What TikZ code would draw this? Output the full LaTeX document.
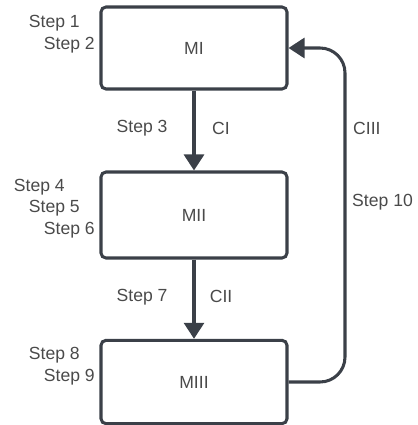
\documentclass[tikz,border=0pt]{standalone}
\usepackage{fontspec}
\setmainfont{Liberation Sans}
\usepackage{xcolor}
\usepackage{tikz}
\usetikzlibrary{arrows.meta,positioning,calc}

\definecolor{edgegray}{HTML}{3B4048}
\definecolor{textgray}{HTML}{4A4A4A}

\begin{document}
\begin{tikzpicture}[x=0.03cm, y=-0.03cm,
		every node/.style={font=\fontsize{15}{18}\selectfont, text=textgray},
		module/.style={draw=edgegray, line width=2.6pt, rounded corners=0.15cm, minimum width=5.58cm, text=textgray},
		flow/.style={draw=edgegray, line width=2.6pt, -{Triangle[width=0.6cm, length=0.48cm]}},
		steplabel/.style={anchor=east, inner sep=0pt}]
		\useasboundingbox (0,0) rectangle (417,425);

		% modules
		\node[module, minimum height=2.46cm] (m1) at (194,48) {MI};
		\node[module, minimum height=2.58cm] (m2) at (194,215) {MII};
		\node[module, minimum height=2.5cm] (m3) at (194,382) {MIII};

		% steps beside the modules
		\node[steplabel] (s1) at (80,23) {Step 1};
		\node[steplabel] (s2) at (95,45) {Step 2};
		\node[steplabel] (s4) at (65,187) {Step 4};
		\node[steplabel] (s5) at (80,208) {Step 5};
		\node[steplabel] (s6) at (95,230) {Step 6};
		\node[steplabel] (s8) at (80,355) {Step 8};
		\node[steplabel] (s9) at (95,377) {Step 9};

		% forward connectors
		\draw[flow] (m1.south) -- node[pos=0.47, left=0.75cm, inner sep=0pt] (s3) {Step 3}
			node[pos=0.47, right=0.5cm, inner sep=0pt] (c1) {CI} (m2.north);
		\draw[flow] (m2.south) -- node[pos=0.47, left=0.75cm, inner sep=0pt] (s7) {Step 7}
			node[pos=0.47, right=0.43cm, inner sep=0pt] (c2) {CII} (m3.north);

		% feedback loop
		\coordinate (loop) at (345,200);
		\draw[flow, rounded corners=0.75cm] (m3.east) -- (m3.east -| loop) -- (m1.east -| loop) -- (m1.east);
		\node[anchor=west, inner sep=0pt] (c3) at (353,128) {CIII};
		\node[anchor=west, inner sep=0pt] (s10) at (352,202) {Step 10};
	\end{tikzpicture}
\end{document}
